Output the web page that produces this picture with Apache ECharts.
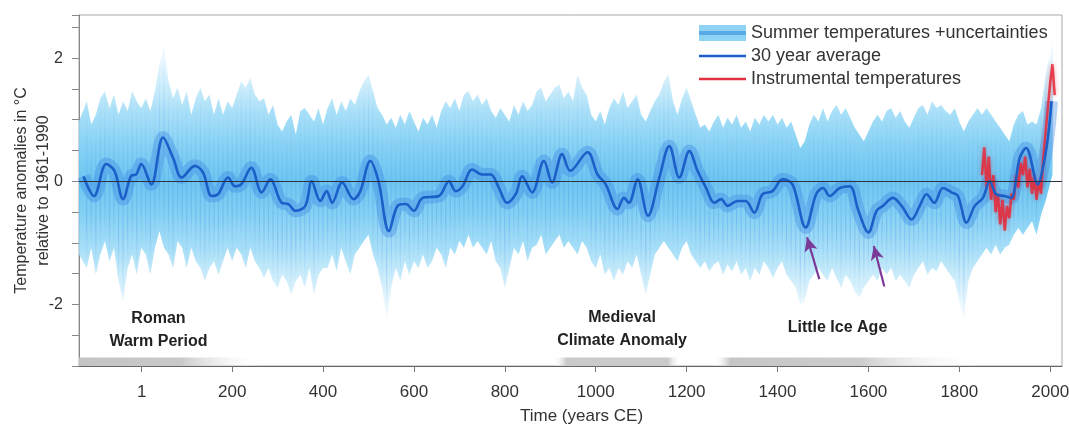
<!DOCTYPE html>
<html>
<head>
<meta charset="utf-8">
<script src="https://cdn.jsdelivr.net/npm/echarts@6/dist/echarts.min.js"></script>
<style>
html,body{margin:0;padding:0;background:#fff;}
#chart{width:1069px;height:425px;}
</style>
</head>
<body>
<div id="chart"></div>
<script>
// ---- data ----
const years = [
-137,-120,-110,-100,-90,-80,-70,-60,-50,-40,-30,-20,-10,0,
10,20,30,40,50,60,70,80,90,100,110,120,130,140,150,160,170,180,190,200,
210,220,230,240,250,260,270,280,290,300,310,320,330,340,350,360,370,380,390,400,
410,420,430,440,450,460,470,480,490,500,510,520,530,540,550,560,570,580,590,600,
610,620,630,640,650,660,670,680,690,700,710,720,730,740,750,760,770,780,790,800,
810,820,830,840,850,860,870,880,890,900,910,920,930,940,950,960,970,980,990,1000,
1010,1020,1030,1040,1050,1060,1070,1080,1090,1100,1110,1120,1130,1140,1150,1160,1170,1180,1190,1200,
1210,1220,1230,1240,1250,1260,1270,1280,1290,1300,1310,1320,1330,1340,1350,1360,1370,1380,1390,1400,
1410,1420,1430,1440,1450,1460,1470,1480,1490,1500,1510,1520,1530,1540,1550,1560,1570,1580,1590,1600,
1610,1620,1630,1640,1650,1660,1670,1680,1690,1700,1710,1720,1730,1740,1750,1760,1770,1780,1790,1800,
1810,1820,1830,1840,1850,1860,1870,1880,1890,1900,1910,1920,1930,1940,1950,1960,1970,1980,1990,2005
];
// upper edge of summer temperature + uncertainty envelope (°C)
const upper = [
0.97,1.30,0.92,1.08,1.35,1.46,1.19,1.41,1.08,1.30,1.14,1.46,1.30,1.19,
1.35,1.14,1.46,1.90,2.20,1.62,1.35,1.52,1.24,1.46,1.08,1.35,1.52,1.30,1.41,1.08,1.35,1.08,1.30,1.19,
1.41,1.62,1.52,1.68,1.41,1.30,1.35,1.08,1.24,0.92,0.81,0.97,1.08,0.76,1.14,1.19,1.08,0.97,1.19,0.92,
1.19,1.35,1.08,1.30,1.14,1.35,1.24,1.46,1.62,1.73,1.46,1.19,1.08,0.92,1.03,0.87,1.08,0.92,1.14,0.97,
0.81,1.03,0.92,1.08,0.87,1.14,1.30,1.19,1.35,1.14,1.41,1.46,1.30,1.41,1.24,1.35,1.14,1.03,1.19,1.08,
0.97,1.24,1.08,1.30,1.14,1.24,1.46,1.52,1.30,1.41,1.52,1.57,1.35,1.46,1.30,1.73,1.52,1.41,1.08,0.97,
1.14,0.92,1.19,1.35,1.24,1.46,1.19,1.30,1.41,1.08,0.97,1.14,1.30,1.41,1.62,1.73,1.30,1.08,1.35,1.52,
1.30,1.08,0.87,0.92,0.81,0.97,1.08,0.87,1.03,0.92,1.08,0.87,0.97,0.81,1.03,0.92,1.08,0.97,1.08,0.92,
1.03,0.87,0.97,0.76,0.54,0.65,0.92,1.08,0.97,1.19,0.97,1.14,1.24,1.08,1.19,1.03,0.87,0.76,0.65,0.81,
0.97,1.08,0.97,1.14,1.19,1.03,1.14,0.97,0.87,1.03,1.19,1.24,1.08,1.30,1.19,1.24,1.14,1.08,1.19,0.97,
0.81,0.97,1.08,1.19,1.08,1.19,1.08,0.97,0.87,0.76,0.65,0.92,1.08,1.14,0.92,0.97,0.92,1.19,1.73,2.27
];
// lower edge of the envelope (°C)
const lower = [
-1.19,-1.41,-1.08,-1.52,-1.19,-0.97,-1.30,-1.08,-1.62,-1.95,-1.41,-1.19,-1.52,-1.08,
-1.19,-1.52,-1.08,-0.81,-1.08,-1.19,-1.41,-0.97,-1.08,-1.41,-1.08,-1.30,-1.41,-1.62,-1.41,-1.30,-1.52,-1.30,-1.08,-1.30,
-1.08,-1.19,-1.41,-1.08,-1.30,-1.41,-1.57,-1.41,-1.62,-1.73,-1.52,-1.62,-1.84,-1.62,-1.52,-1.73,-1.41,-1.84,-1.52,-1.41,
-1.41,-1.19,-1.46,-1.08,-1.30,-1.52,-1.19,-1.08,-0.97,-0.87,-1.19,-1.41,-1.73,-2.27,-1.73,-1.41,-1.62,-1.30,-1.52,-1.30,
-1.41,-1.19,-1.41,-1.30,-1.08,-1.19,-1.41,-1.08,-1.19,-0.97,-1.08,-0.87,-1.08,-0.97,-1.08,-1.19,-0.97,-1.30,-1.41,-1.73,
-1.41,-1.08,-1.19,-0.97,-1.30,-1.08,-1.03,-0.87,-1.19,-1.08,-0.97,-0.87,-1.08,-0.97,-1.08,-1.19,-0.97,-1.08,-1.30,-1.41,
-1.19,-1.52,-1.41,-1.62,-1.41,-1.52,-1.30,-1.41,-1.19,-1.52,-1.84,-1.52,-1.19,-1.08,-0.97,-1.08,-1.19,-1.30,-1.08,-0.97,
-1.19,-1.30,-1.41,-1.30,-1.46,-1.35,-1.30,-1.52,-1.35,-1.46,-1.30,-1.52,-1.41,-1.62,-1.41,-1.52,-1.30,-1.41,-1.57,-1.41,
-1.30,-1.52,-1.62,-1.73,-2.00,-1.95,-1.62,-1.52,-1.41,-1.52,-1.62,-1.41,-1.57,-1.73,-1.52,-1.62,-1.79,-1.89,-1.73,-1.62,
-1.52,-1.62,-1.41,-1.52,-1.41,-1.62,-1.52,-1.62,-1.73,-1.52,-1.41,-1.30,-1.52,-1.41,-1.46,-1.30,-1.41,-1.52,-1.62,-1.95,
-2.27,-1.62,-1.41,-1.30,-1.19,-1.08,-1.19,-1.03,-1.19,-1.08,-1.03,-0.87,-0.76,-0.87,-0.76,-0.65,-0.87,-0.54,-0.32,0.11
];
// 30 year average (turning points)
const meanYears = [
-127,-104,-77,-59,-40,-22,-11,0,22,48,70,89,118,136,155,169,191,206,220,242,265,284,309,324,339,361,375,394,408,
420,442,467,482,504,522,545,564,582,600,619,655,677,692,707,728,750,769,787,805,824,838,860,886,904,926,944,
982,1004,1022,1048,1062,1073,1092,1115,1140,1162,1184,1206,1224,1243,1261,1276,1290,1312,1330,1349,1367,1389,1411,1433,
1462,1485,1500,1515,1537,1559,1578,1600,1618,1632,1654,1673,1695,1713,1728,1745,1764,1783,1797,1816,1834,1852,
1867,1881,1900,1914,1933,1947,1973,1984,1995,2003
];
const meanVals = [
0.08,-0.24,0.28,0.17,-0.29,0.09,0.11,0.28,-0.05,0.71,0.38,0.06,0.25,0.14,-0.24,-0.21,0.06,-0.08,-0.05,0.22,-0.18,0.03,-0.35,-0.37,-0.48,-0.40,0.00,-0.32,-0.16,
-0.35,-0.02,-0.29,-0.16,0.33,0.00,-0.81,-0.40,-0.37,-0.48,-0.27,-0.24,0.00,-0.16,-0.08,0.19,0.11,0.11,-0.11,-0.35,-0.21,0.08,-0.18,0.33,-0.02,0.44,0.17,
0.47,0.11,-0.05,-0.45,-0.27,-0.35,0.03,-0.56,0.06,0.57,0.06,0.49,0.17,-0.11,-0.35,-0.29,-0.40,-0.32,-0.32,-0.51,-0.21,-0.16,0.03,-0.05,
-0.75,-0.21,-0.11,-0.24,-0.11,-0.08,-0.48,-0.83,-0.48,-0.40,-0.27,-0.40,-0.62,-0.40,-0.21,-0.35,-0.11,-0.18,-0.24,-0.67,-0.40,-0.27,
0.00,-0.21,-0.24,-0.27,0.38,0.54,-0.05,0.22,0.71,1.30
];
// instrumental temperatures
const instYears = [1850,1855,1860,1865,1870,1875,1880,1885,1890,1895,1900,1905,1910,1915,1920,1925,1930,1935,1940,1945,1950,1955,1960,1965,1970,1975,1980,1985,1990,1995,2000,2005,2010];
const instVals  = [0.10,0.55,-0.10,0.40,-0.30,0.10,-0.50,-0.20,-0.70,-0.30,-0.80,-0.40,-0.60,-0.20,-0.30,0.10,-0.10,0.30,0.10,0.40,-0.10,0.20,-0.20,0.10,-0.30,0.00,-0.20,0.40,0.80,1.20,1.60,1.90,1.40];
// period bars and labels
const periodNames = ['Roman\nWarm Period','Medieval\nClimate Anomaly','Little Ice Age'];
const periodStart = [-137, 907, 1260];
const periodEnd   = [270, 1187, 1848];
// arrows (tail -> head)
const arrowTail = [[1492,-1.59],[1635,-1.71]];
const arrowHead = [[1465,-0.91],[1612,-1.05]];
// axis ticks
const xTicks = [1,200,400,600,800,1000,1200,1400,1600,1800,2000];
const yLabels = [-2,0,2];

// ---- build ----
const FONT = 'Liberation Sans, Arial, Helvetica, sans-serif';
const bandData = years.map((y,i)=>[y, lower[i], upper[i]]);
const meanData = meanYears.map((y,i)=>[y, meanVals[i]]);
const instData = instYears.map((y,i)=>[y, instVals[i]]);

function bandGradient(api){
  const yTop = api.coord([0, 2.35])[1], yBot = api.coord([0, -2.35])[1];
  return new echarts.graphic.LinearGradient(0, yTop, 0, yBot, [
    {offset:0,color:'rgba(235,248,254,0.1)'},
    {offset:0.12,color:'rgba(190,232,250,0.55)'},
    {offset:0.26,color:'rgba(160,220,247,0.9)'},
    {offset:0.38,color:'#86d1f4'},
    {offset:0.5,color:'#6cc6f1'},
    {offset:0.62,color:'#86d1f4'},
    {offset:0.74,color:'rgba(160,220,247,0.9)'},
    {offset:0.88,color:'rgba(190,232,250,0.55)'},
    {offset:1,color:'rgba(235,248,254,0.1)'}], true);
}
function renderBand(params, api){
  const i = params.dataIndexInside;
  const children = [];
  if (i === 0) {
    const pts = [];
    for (let k = 0; k < years.length; k++) pts.push(api.coord([years[k], upper[k]]));
    for (let k = years.length - 1; k >= 0; k--) pts.push(api.coord([years[k], lower[k]]));
    children.push({type:'polygon', shape:{points:pts}, style:{fill:bandGradient(api)}, silent:true});
  }
  // faint streak for each sample
  const pTop = api.coord([api.value(0), api.value(2)]);
  const pBot = api.coord([api.value(0), api.value(1)]);
  const stroke = new echarts.graphic.LinearGradient(0, pTop[1], 0, pBot[1], [
    {offset:0,color:'rgba(60,140,225,0)'},
    {offset:0.35,color:'rgba(60,140,225,0.18)'},
    {offset:0.72,color:'rgba(50,125,220,0.24)'},
    {offset:1,color:'rgba(60,140,225,0)'}], true);
  children.push({type:'line', shape:{x1:pTop[0], y1:pTop[1], x2:pBot[0], y2:pBot[1]},
    style:{stroke:stroke, lineWidth:1.2}, silent:true});
  return {type:'group', children:children};
}

const grads = [
  [{offset:0,color:'#c4c4c4'},{offset:0.55,color:'#c9c9c9'},{offset:1,color:'rgba(255,255,255,0)'}],
  [{offset:0,color:'rgba(255,255,255,0)'},{offset:0.1,color:'#cacaca'},{offset:0.9,color:'#cacaca'},{offset:1,color:'rgba(255,255,255,0)'}],
  [{offset:0,color:'rgba(255,255,255,0)'},{offset:0.06,color:'#c6c6c6'},{offset:0.55,color:'#cdcdcd'},{offset:1,color:'rgba(255,255,255,0)'}]
];
const labelOffsets = [[-13,1],[5,0],[-10,-13]];
const periodAreas = periodNames.map((n,i)=>[
  {xAxis: periodStart[i], yAxis: -3,
   itemStyle:{color:{type:'linear',x:0,y:0,x2:1,y2:0,colorStops:grads[i]}},
   label:{show:true, position:'top', formatter:n, offset:labelOffsets[i]}},
  {xAxis: periodEnd[i], yAxis: -2.86}
]);
const arrows = arrowTail.map((t,i)=>[
  {coord:t, symbol:'none'},
  {coord:arrowHead[i], symbol:'arrow', symbolSize:[10,14]}
]);
const lineIcon = 'path://M0,0L47,0L47,2.6L0,2.6Z';

const chart = echarts.init(document.getElementById('chart'), null, {renderer:'canvas'});
chart.setOption({
  animation:false,
  textStyle:{fontFamily:FONT},
  grid:{left:79, right:7, top:15, bottom:59, outerBoundsMode:'none', containLabel:false,
        show:true, borderColor:'#a8a8a8', borderWidth:1},
  legend:{
    orient:'vertical', left:694, top:19, itemWidth:47, itemHeight:16, itemGap:5,
    symbolKeepAspect:true,
    textStyle:{fontSize:18, color:'#333', fontFamily:FONT},
    data:[
      {name:'Summer temperatures +uncertainties', icon:'rect',
       itemStyle:{color:{type:'linear',x:0,y:0,x2:0,y2:1,colorStops:[
         {offset:0,color:'#8ed2f4'},{offset:0.36,color:'#8ed2f4'},{offset:0.37,color:'#58a9e6'},
         {offset:0.63,color:'#58a9e6'},{offset:0.64,color:'#8ed2f4'},{offset:1,color:'#8ed2f4'}]}}},
      {name:'30 year average', icon:lineIcon, itemStyle:{color:'#1b5fc8'}},
      {name:'Instrumental temperatures', icon:lineIcon, itemStyle:{color:'#e3303e'}}
    ]
  },
  xAxis:{
    type:'value', min:-137, max:2026,
    name:'Time (years CE)', nameLocation:'middle', nameGap:42, nameMoveOverlap:false,
    nameTextStyle:{fontSize:17, color:'#333', padding:[0,0,0,22]},
    axisLine:{onZero:false, lineStyle:{color:'#666', width:1}},
    axisTick:{show:true, length:6, lineStyle:{color:'#777'}, customValues:xTicks},
    axisLabel:{fontSize:17, color:'#333', margin:18, customValues:xTicks, formatter:v=>String(v)},
    splitLine:{show:false}
  },
  yAxis:{
    type:'value', min:-3, max:2.7, interval:0.5,
    name:'Temperature anomalies in °C\nrelative to 1961-1990', nameLocation:'middle', nameGap:24,
    nameMoveOverlap:false,
    nameTextStyle:{fontSize:16, color:'#333', lineHeight:22},
    axisLine:{show:true, onZero:false, lineStyle:{color:'#888'}},
    axisTick:{show:true, length:7, lineStyle:{color:'#888'}},
    axisLabel:{fontSize:16, color:'#333', margin:16,
      formatter:v=> yLabels.indexOf(v)>=0 ? String(v) : ''},
    splitLine:{show:false}
  },
  series:[
    {name:'Summer temperatures +uncertainties', type:'custom', data:bandData, renderItem:renderBand,
     encode:{x:0, y:[1,2]}, silent:true, z:1, clip:true,
     itemStyle:{color:'#8ed2f4'},
     markLine:{silent:true, symbol:'none', label:{show:false},
       lineStyle:{color:'#2a3440', width:1, type:'solid'}, data:[{yAxis:0}]}
    },
    {name:'halo', type:'line', data:meanData, symbol:'none', smooth:0.35, silent:true, z:2,
     lineStyle:{color:'rgba(55,130,225,0.35)', width:13}},
    {name:'30 year average', type:'line', data:meanData, symbol:'none', smooth:0.35, z:4,
     itemStyle:{color:'#1b5fc8'},
     lineStyle:{color:'#1b5fc8', width:2.6},
     markArea:{silent:true,
       label:{color:'#222', fontSize:16, fontWeight:'bold', lineHeight:23, fontFamily:FONT},
       data:periodAreas}
    },
    {name:'Instrumental temperatures', type:'line', data:instData, symbol:'none', z:3,
     itemStyle:{color:'#e3303e'},
     lineStyle:{color:'rgba(230,40,55,0.85)', width:2.5, shadowColor:'rgba(230,40,55,0.5)', shadowBlur:4},
     markLine:{silent:true, label:{show:false}, lineStyle:{color:'#7b3a98', width:2.2, type:'solid'},
       data:arrows}
    }
  ]
});
</script>
</body>
</html>
